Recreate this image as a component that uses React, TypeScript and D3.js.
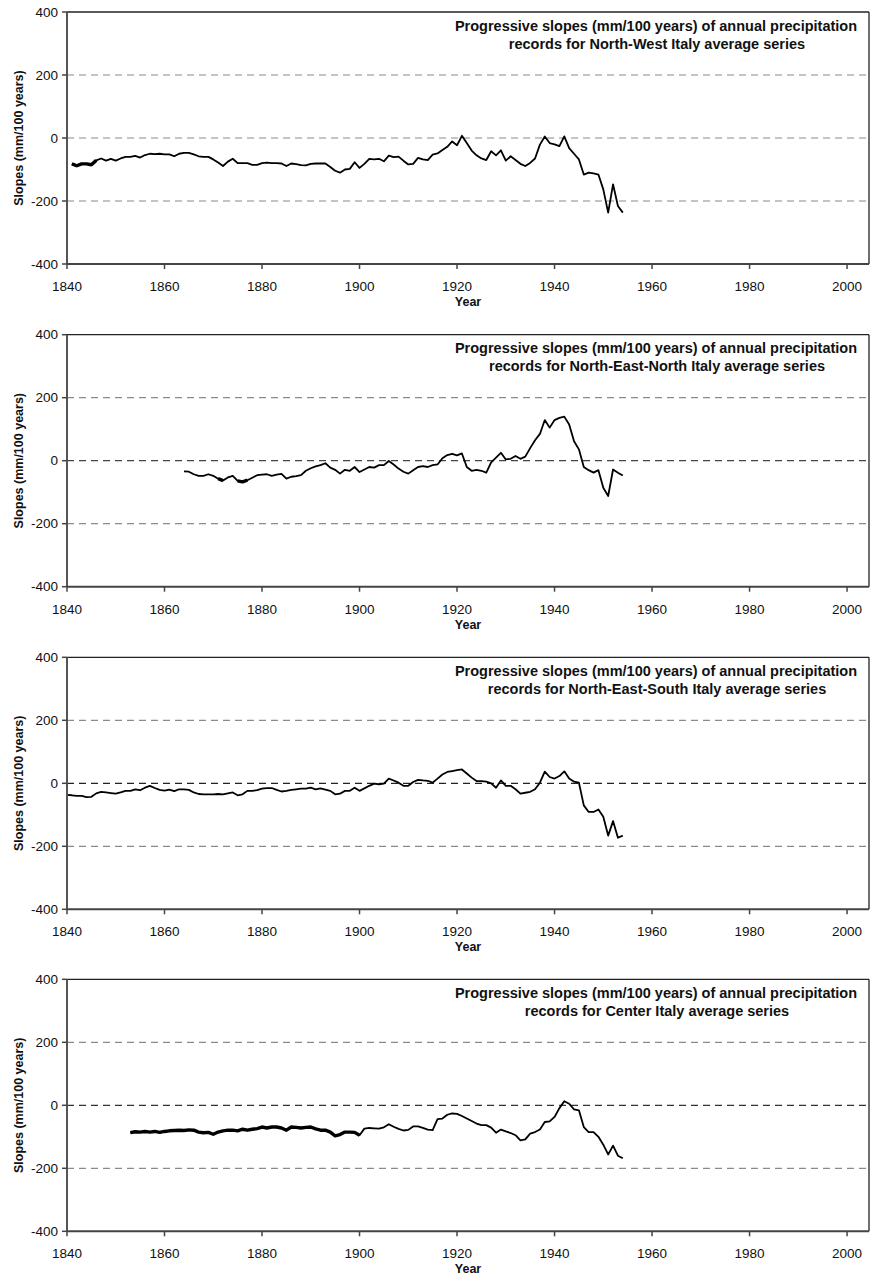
import React from "react";
import * as d3 from "d3";

// ---------- DATA ----------
const titleLine1 = "Progressive slopes (mm/100 years) of annual precipitation";
const titleLine2 = [
  "records for North-West Italy average series",
  "records for North-East-North Italy average series",
  "records for North-East-South Italy average series",
  "records for Center Italy average series",
];

const yTicks = [-400, -200, 0, 200, 400];
const gridValues = [-200, 0, 200];
const xTicks = [1840, 1860, 1880, 1900, 1920, 1940, 1960, 1980, 2000];

const nwStart = 1841;
const nwValues = [
  -82, -88, -82, -82, -85, -71, -65, -72, -66, -72, -65, -60, -60, -57, -62, -54, -50, -51, -50, -52,
  -52, -58, -50, -47, -47, -52, -58, -60, -60, -68, -78, -89, -75, -66, -80, -80, -80, -85, -85, -80,
  -78, -80, -80, -81, -89, -81, -83, -86, -87, -82, -81, -81, -81, -92, -104, -110, -100, -98, -77, -95,
  -82, -66, -68, -66, -74, -56, -61, -59, -72, -84, -82, -63, -68, -70, -53, -49, -38, -28, -11, -23,
  7, -16, -40, -55, -65, -70, -42, -55, -39, -72, -58, -70, -82, -89, -79, -65, -21, 5, -16, -20,
  -26, 5, -32, -50, -68, -116, -110, -112, -116, -163, -237, -147, -216, -237,
];

const nenStart = 1864;
const nenValues = [
  -34, -35, -43, -48, -48, -43, -48, -57, -63, -53, -48, -64, -67, -62, -54, -46, -44, -43, -48, -44,
  -42, -57, -51, -49, -46, -32, -24, -18, -14, -8, -22, -29, -41, -29, -32, -20, -36, -28, -20, -22,
  -14, -14, -1, -12, -25, -35, -41, -30, -20, -17, -20, -14, -12, 8, 18, 22, 17, 23, -20, -32,
  -29, -32, -38, -5, 10, 25, 4, 6, 15, 6, 13, 40, 65, 85, 129, 105, 129, 136, 140, 115,
  62, 36, -20, -30, -38, -30, -86, -112, -28, -38, -47,
];

const nesStart = 1840;
const nesValues = [
  -37, -38, -40, -40, -44, -43, -32, -27, -29, -31, -33, -29, -24, -24, -19, -22, -14, -8, -15, -21,
  -23, -20, -25, -19, -19, -21, -29, -34, -35, -35, -35, -34, -35, -32, -29, -38, -35, -24, -24, -22,
  -17, -15, -15, -21, -26, -24, -21, -19, -17, -17, -14, -19, -16, -20, -24, -35, -33, -24, -24, -14,
  -24, -16, -8, -1, -3, -1, 15, 9, 2, -8, -8, 4, 11, 9, 8, 2, 15, 28, 36, 39,
  42, 44, 31, 18, 7, 7, 5, 0, -14, 9, -8, -8, -19, -33, -30, -27, -19, 2, 37, 20,
  15, 23, 38, 15, 5, 2, -70, -91, -91, -83, -106, -166, -120, -173, -166,
];

const centerStart = 1853;
const centerValues = [
  -87, -84, -85, -83, -85, -83, -86, -83, -81, -80, -79, -80, -78, -79, -85, -87, -86, -92, -85, -81,
  -79, -79, -81, -76, -79, -76, -74, -69, -72, -69, -69, -72, -79, -69, -70, -72, -70, -69, -75, -79,
  -79, -85, -97, -93, -85, -85, -86, -95, -74, -72, -73, -74, -70, -60, -68, -75, -80, -78, -67, -67,
  -72, -77, -79, -44, -42, -30, -26, -27, -34, -42, -50, -58, -63, -63, -71, -87, -77, -83, -88, -95,
  -111, -108, -90, -85, -77, -53, -51, -37, -9, 13, 5, -13, -16, -69, -85, -85, -100, -125, -156, -128,
  -160, -168,
];

// year ranges drawn with a heavier line (overlapping traces in the original)
const boldRanges: [number, number][][] = [
  [[1841, 1846]],
  [[1871, 1872], [1875, 1877]],
  [],
  [[1853, 1900]],
];

const seriesStarts = [nwStart, nenStart, nesStart, centerStart];
const seriesValues = [nwValues, nenValues, nesValues, centerValues];

// ---------- LAYOUT ----------
const W = 871;
const H = 1276;
const panelTops = [12, 334.7, 657.3, 979.3];
const plotH = 252;
const left = 67;
const right = 869;
const zeroColors = ["#8a8a8a", "#444", "#222", "#333"];
const FONT = "'Liberation Sans', Arial, Helvetica, sans-serif";

function Panel({ idx }: { idx: number }) {
  const top = panelTops[idx];
  const x = d3.scaleLinear().domain([1840, 2004.5]).range([left, right]);
  const y = d3.scaleLinear().domain([-400, 400]).range([top + plotH, top]);
  const start = seriesStarts[idx];
  const pts = seriesValues[idx].map((v, i) => ({ year: start + i, v }));
  const line = d3
    .line<{ year: number; v: number }>()
    .x((d) => x(d.year))
    .y((d) => y(d.v));
  const bottom = top + plotH;
  const cx = (left + right) / 2;
  return (
    <g>
      {gridValues.map((g) => (
        <line
          key={g}
          x1={left}
          x2={right}
          y1={y(g)}
          y2={y(g)}
          stroke={g === 0 ? zeroColors[idx] : "#8a8a8a"}
          strokeWidth={1.2}
          strokeDasharray="7,5"
        />
      ))}
      <path d={line(pts) || ""} fill="none" stroke="#000" strokeWidth={1.8} strokeLinejoin="round" />
      {boldRanges[idx].map((r, k) => (
        <path
          key={k}
          d={line(pts.filter((p) => p.year >= r[0] && p.year <= r[1])) || ""}
          fill="none"
          stroke="#000"
          strokeWidth={3.4}
          strokeLinejoin="round"
        />
      ))}
      {/* frame */}
      <line x1={left} x2={right} y1={top} y2={top} stroke="#222" strokeWidth={1.3} />
      <line x1={right} x2={right} y1={top} y2={bottom} stroke="#222" strokeWidth={1.3} />
      <line x1={left} x2={left} y1={top} y2={bottom} stroke="#555" strokeWidth={2} />
      <line x1={left} x2={right} y1={bottom} y2={bottom} stroke="#444" strokeWidth={2} />
      {yTicks.map((t) => (
        <g key={t}>
          <line x1={left - 5} x2={left} y1={y(t)} y2={y(t)} stroke="#444" strokeWidth={1.5} />
          <text
            x={left - 9}
            y={y(t)}
            dy="0.35em"
            textAnchor="end"
            fontSize={13.5}
            fontFamily={FONT}
            fill="#111"
          >
            {t}
          </text>
        </g>
      ))}
      {xTicks.map((t) => (
        <g key={t}>
          <line x1={x(t)} x2={x(t)} y1={bottom} y2={bottom + 5} stroke="#444" strokeWidth={1.5} />
          <text
            x={x(t)}
            y={bottom + 27}
            textAnchor="middle"
            fontSize={13.5}
            fontFamily={FONT}
            fill="#111"
          >
            {t}
          </text>
        </g>
      ))}
      <text x={cx} y={bottom + 42} textAnchor="middle" fontSize={12.5} fontWeight="bold" fontFamily={FONT} fill="#111">
        Year
      </text>
      <text
        transform={`translate(${22.5},${y(0)}) rotate(-90)`}
        textAnchor="middle"
        fontSize={12.5}
        fontWeight="bold"
        fontFamily={FONT}
        fill="#111"
      >
        Slopes (mm/100 years)
      </text>
      <text x={656} y={top + 18.5} textAnchor="middle" fontSize={14.5} fontWeight="bold" fontFamily={FONT} fill="#111">
        {titleLine1}
      </text>
      <text x={657} y={top + 36.5} textAnchor="middle" fontSize={14.5} fontWeight="bold" fontFamily={FONT} fill="#111">
        {titleLine2[idx]}
      </text>
    </g>
  );
}

export default function App() {
  return (
    <svg
      width={W}
      height={H}
      viewBox={`0 0 ${W} ${H}`}
      style={{ position: "absolute", left: 0, top: 0, background: "#fff" }}
    >
      <rect x={0} y={0} width={W} height={H} fill="#fff" />
      {panelTops.map((_, i) => (
        <Panel key={i} idx={i} />
      ))}
    </svg>
  );
}
